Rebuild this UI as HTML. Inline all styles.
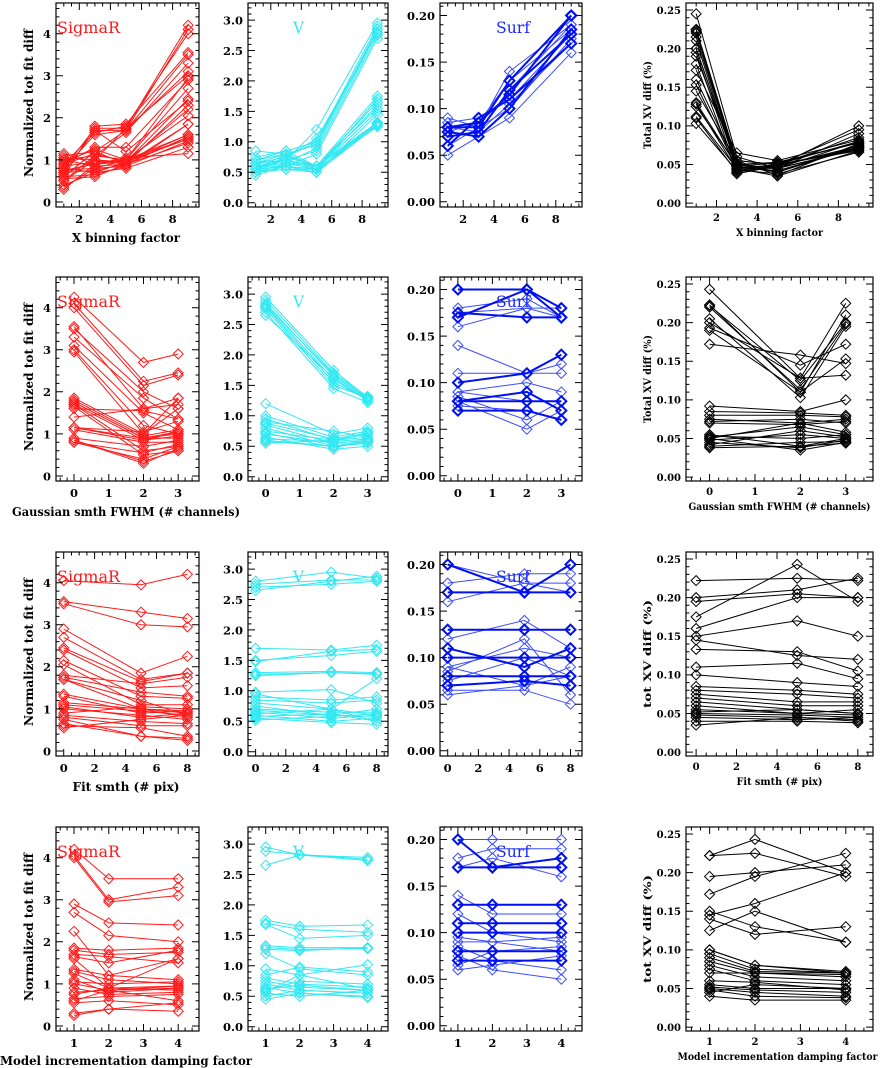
<!DOCTYPE html>
<html><head><meta charset="utf-8"><style>
html,body{margin:0;padding:0;background:#fff;}
svg{display:block;}
text{font-family:"DejaVu Serif","Liberation Serif",serif;}
</style></head>
<body>
<svg id="fig" width="880" height="1068" viewBox="0 0 880 1068" xmlns="http://www.w3.org/2000/svg"></svg>
<script>
// ---------- data ----------
const xRow1 = [1,3,5,9];
const xRow2 = [0,2,3];
const xRow3 = [0,5,8];
const xRow4 = [1,2,4];

const r1Sigma = [[0.8,1.75,1.75,4.2],[0.7,1.7,1.7,4.1],[0.9,1.65,1.8,4.0],[1.1,1.2,1.7,3.5],[0.6,1.8,1.85,3.55],[1.0,1.1,1.65,3.3],[0.8,1.6,1.7,3.1],[0.5,1.0,1.75,3.0],[0.3,0.9,1.0,2.95],[0.9,1.3,1.3,2.9],[0.75,0.8,1.0,2.7],[1.15,0.9,0.95,2.45],[0.7,1.7,1.2,2.4],[0.6,1.2,0.9,2.3],[0.8,0.7,0.95,2.2],[0.5,1.1,1.0,2.05],[1.05,1.0,0.9,1.85],[0.35,0.8,0.85,1.85],[0.85,0.95,1.0,1.6],[0.7,0.75,0.9,1.55],[0.9,1.15,0.95,1.5],[0.6,0.65,0.85,1.45],[1.0,0.85,0.9,1.4],[0.4,0.7,0.8,1.3],[0.75,0.9,1.05,1.15],[0.65,1.0,0.95,1.6],[0.95,1.25,1.0,1.5],[0.55,0.6,0.9,1.55]];
const r1V = [[0.6,0.7,1.2,2.95],[0.55,0.75,1.0,2.9],[0.65,0.8,0.95,2.85],[0.5,0.65,0.9,2.8],[0.7,0.85,1.0,2.8],[0.6,0.7,0.85,2.75],[0.55,0.6,0.8,2.7],[0.85,0.8,0.95,2.85],[0.5,0.75,1.05,2.78],[0.6,0.7,0.6,1.75],[0.55,0.6,0.55,1.7],[0.65,0.75,0.6,1.65],[0.5,0.55,0.55,1.6],[0.7,0.8,0.6,1.55],[0.6,0.65,0.55,1.5],[0.45,0.6,0.5,1.45],[0.55,0.7,0.55,1.3],[0.6,0.65,0.6,1.28],[0.5,0.6,0.55,1.25],[0.65,0.7,0.6,1.3],[0.75,0.85,0.6,1.32],[0.5,0.55,0.5,1.27],[0.55,0.8,0.55,1.7],[0.6,0.6,0.5,1.3]];
const r1SurfThin = [[0.09,0.08,0.14,0.19],[0.05,0.07,0.09,0.16],[0.085,0.09,0.11,0.18],[0.07,0.075,0.12,0.19],[0.06,0.08,0.10,0.175],[0.075,0.085,0.13,0.185],[0.08,0.075,0.105,0.17]];
const r1SurfThick = [[0.08,0.08,0.13,0.20],[0.07,0.075,0.12,0.18],[0.06,0.09,0.11,0.17],[0.075,0.07,0.10,0.185],[0.08,0.085,0.115,0.20]];
const r1XV = [[0.245,0.06,0.045,0.08],[0.225,0.055,0.05,0.085],[0.224,0.05,0.04,0.075],[0.222,0.045,0.05,0.07],[0.215,0.05,0.045,0.09],[0.21,0.045,0.048,0.072],[0.2,0.048,0.052,0.078],[0.195,0.04,0.05,0.068],[0.19,0.052,0.04,0.075],[0.172,0.065,0.055,0.082],[0.16,0.05,0.045,0.07],[0.153,0.045,0.035,0.068],[0.145,0.055,0.05,0.08],[0.13,0.048,0.04,0.073],[0.128,0.043,0.038,0.066],[0.125,0.05,0.053,0.078],[0.112,0.045,0.045,0.07],[0.11,0.04,0.048,0.1],[0.103,0.042,0.05,0.095],[0.2,0.047,0.042,0.072],[0.22,0.055,0.036,0.077],[0.18,0.038,0.048,0.074]];

const r2Sigma = [[4.25,2.7,2.9],[4.1,2.25,2.45],[4.0,2.15,2.4],[3.55,1.6,1.85],[3.5,2.0,1.6],[3.3,1.85,1.35],[3.1,1.5,1.1],[3.0,1.2,1.0],[2.95,1.0,1.6],[1.85,1.0,1.85],[1.8,0.95,1.1],[1.75,0.9,1.0],[1.7,0.85,0.95],[1.7,0.6,0.7],[1.65,0.5,0.6],[1.6,1.55,1.35],[1.4,1.6,1.7],[1.15,0.85,1.05],[1.15,0.9,0.9],[1.1,0.8,0.8],[0.85,0.35,0.6],[0.85,0.3,0.65],[0.8,0.4,0.7],[0.8,0.55,0.75],[0.9,0.7,0.85],[1.15,1.05,1.3],[1.75,0.9,1.05]];
const r2V = [[2.95,1.75,1.3],[2.9,1.7,1.32],[2.85,1.65,1.28],[2.8,1.6,1.25],[2.78,1.55,1.27],[2.75,1.5,1.3],[2.7,1.45,1.22],[2.65,1.62,1.26],[2.82,1.68,1.29],[1.2,0.7,0.8],[1.0,0.65,0.75],[0.95,0.6,0.7],[0.9,0.75,0.65],[0.85,0.55,0.6],[0.8,0.5,0.55],[0.75,0.6,0.7],[0.7,0.55,0.6],[0.65,0.45,0.5],[0.6,0.5,0.55],[0.55,0.6,0.65],[0.58,0.5,0.6],[0.88,0.62,0.72],[0.72,0.48,0.58],[0.62,0.58,0.62]];
const r2SurfThin = [[0.18,0.19,0.17],[0.16,0.18,0.17],[0.175,0.18,0.18],[0.14,0.11,0.12],[0.11,0.11,0.11],[0.09,0.10,0.09],[0.085,0.06,0.08],[0.08,0.05,0.07],[0.075,0.07,0.06],[0.09,0.08,0.08]];
const r2SurfThick = [[0.20,0.20,0.17],[0.175,0.17,0.17],[0.17,0.20,0.18],[0.10,0.11,0.13],[0.08,0.08,0.08],[0.07,0.07,0.06],[0.08,0.09,0.07]];
const r2XV = [[0.243,0.128,0.225],[0.223,0.11,0.21],[0.222,0.125,0.2],[0.22,0.113,0.198],[0.205,0.103,0.195],[0.193,0.145,0.172],[0.19,0.11,0.153],[0.172,0.158,0.147],[0.2,0.128,0.132],[0.092,0.085,0.1],[0.085,0.083,0.08],[0.08,0.08,0.078],[0.075,0.07,0.075],[0.07,0.068,0.072],[0.072,0.075,0.07],[0.055,0.04,0.05],[0.052,0.065,0.055],[0.05,0.035,0.045],[0.048,0.055,0.05],[0.045,0.038,0.048],[0.042,0.06,0.052],[0.04,0.045,0.046],[0.053,0.05,0.055],[0.038,0.04,0.044],[0.05,0.07,0.058]];

const r3Sigma = [[4.05,3.95,4.2],[3.55,3.3,3.15],[3.5,3.0,2.95],[2.9,1.85,2.25],[2.7,1.7,1.85],[2.45,1.65,1.85],[2.4,1.5,1.55],[2.15,1.3,1.25],[2.05,1.1,1.1],[1.8,1.6,1.75],[1.75,1.4,1.3],[1.7,1.0,0.9],[1.7,1.2,0.85],[1.35,1.0,0.8],[1.3,0.9,0.95],[1.1,0.95,0.85],[1.05,0.8,0.9],[1.0,0.85,0.75],[0.85,0.7,0.65],[0.8,0.6,0.6],[0.75,0.35,0.3],[0.65,0.35,0.25],[0.6,0.55,0.35],[0.55,0.75,0.85],[0.9,1.05,1.0],[1.15,1.0,0.95]];
const r3V = [[2.8,2.95,2.85],[2.75,2.82,2.82],[2.7,2.75,2.8],[2.65,2.8,2.88],[1.7,1.67,1.75],[1.5,1.58,1.65],[1.48,1.65,1.68],[1.3,1.32,1.3],[1.27,1.3,1.28],[1.25,1.3,1.27],[0.98,1.02,0.8],[0.95,0.7,1.2],[0.9,0.85,0.9],[0.85,0.8,0.85],[0.8,0.7,0.6],[0.75,0.6,0.7],[0.7,0.65,0.65],[0.65,0.55,0.6],[0.6,0.5,0.55],[0.58,0.62,0.5],[0.55,0.48,0.45],[0.52,0.58,0.62],[0.62,0.7,0.5],[0.68,0.6,0.58]];
const r3SurfThin = [[0.20,0.18,0.18],[0.18,0.19,0.19],[0.16,0.18,0.17],[0.12,0.14,0.11],[0.09,0.07,0.09],[0.085,0.12,0.06],[0.065,0.065,0.05],[0.06,0.07,0.08],[0.075,0.1,0.08],[0.09,0.11,0.10]];
const r3SurfThick = [[0.20,0.17,0.20],[0.17,0.17,0.17],[0.13,0.13,0.13],[0.10,0.10,0.10],[0.08,0.08,0.08],[0.07,0.075,0.07],[0.11,0.09,0.11]];
const r3XV = [[0.222,0.225,0.222],[0.2,0.21,0.225],[0.195,0.205,0.2],[0.175,0.243,0.195],[0.16,0.2,0.2],[0.15,0.17,0.15],[0.145,0.125,0.12],[0.133,0.13,0.105],[0.11,0.115,0.095],[0.1,0.09,0.085],[0.085,0.08,0.075],[0.08,0.075,0.07],[0.075,0.065,0.065],[0.07,0.06,0.06],[0.065,0.055,0.05],[0.055,0.05,0.048],[0.05,0.048,0.045],[0.048,0.045,0.04],[0.045,0.042,0.045],[0.04,0.04,0.038],[0.035,0.045,0.042],[0.052,0.055,0.05],[0.06,0.05,0.055]];

const r4Sigma = [[4.2,3.5,3.5],[4.05,3.0,3.3],[4.0,2.95,3.1],[2.9,2.45,2.4],[2.7,2.15,2.0],[2.25,1.2,1.6],[1.85,1.8,1.85],[1.8,1.7,1.75],[1.7,1.65,1.5],[1.65,1.5,1.8],[1.6,0.9,1.6],[1.35,1.2,1.1],[1.3,1.1,1.0],[1.25,0.9,0.95],[1.1,0.8,0.9],[1.05,1.0,1.05],[0.9,0.75,0.8],[0.8,0.85,0.9],[0.75,0.9,0.85],[0.65,0.7,0.75],[0.6,0.85,0.6],[0.55,0.6,0.5],[0.3,0.4,0.35],[0.25,0.4,0.55],[1.0,0.85,0.95]];
const r4V = [[2.95,2.82,2.78],[2.88,2.83,2.75],[2.65,2.82,2.73],[1.75,1.65,1.67],[1.7,1.6,1.55],[1.68,1.45,1.5],[1.33,1.3,1.3],[1.3,1.27,1.28],[1.27,1.25,1.3],[1.2,0.95,0.85],[0.95,0.85,1.02],[0.85,0.98,0.9],[0.8,0.7,0.65],[0.75,0.65,0.6],[0.7,0.6,0.55],[0.65,0.55,0.5],[0.6,0.75,0.7],[0.55,0.5,0.6],[0.5,0.6,0.55],[0.45,0.55,0.48],[0.62,0.68,0.6],[0.58,0.85,0.62]];
const r4SurfThin = [[0.20,0.20,0.20],[0.18,0.19,0.19],[0.14,0.12,0.12],[0.12,0.10,0.09],[0.09,0.09,0.08],[0.085,0.07,0.06],[0.075,0.06,0.05],[0.06,0.065,0.075],[0.065,0.08,0.085],[0.095,0.09,0.095],[0.17,0.18,0.16]];
const r4SurfThick = [[0.20,0.17,0.18],[0.17,0.17,0.17],[0.13,0.13,0.13],[0.11,0.11,0.11],[0.10,0.10,0.10],[0.08,0.08,0.08],[0.07,0.07,0.07]];
const r4XV = [[0.222,0.243,0.2],[0.222,0.225,0.195],[0.195,0.2,0.21],[0.172,0.195,0.225],[0.15,0.13,0.11],[0.145,0.16,0.2],[0.14,0.12,0.13],[0.125,0.15,0.11],[0.1,0.08,0.072],[0.095,0.075,0.07],[0.09,0.072,0.07],[0.085,0.07,0.068],[0.08,0.065,0.06],[0.075,0.06,0.055],[0.055,0.05,0.05],[0.052,0.048,0.045],[0.05,0.045,0.04],[0.048,0.04,0.038],[0.045,0.055,0.05],[0.04,0.035,0.035],[0.06,0.058,0.048],[0.07,0.07,0.065],[0.1,0.08,0.07]];

const yTicksSigma = ["0","1","2","3","4"];
const yTicksV = ["0.0","0.5","1.0","1.5","2.0","2.5","3.0"];
const yTicksSurf = ["0.00","0.05","0.10","0.15","0.20"];
const yTicksXV = ["0.00","0.05","0.10","0.15","0.20","0.25"];
const xTicksRow1 = ["2","4","6","8"];
const xTicksRow2 = ["0","1","2","3"];
const xTicksRow3 = ["0","2","4","6","8"];
const xTicksRow4 = ["1","2","3","4"];

// ---------- drawing ----------
const svg = document.getElementById('fig');
const NS = 'http://www.w3.org/2000/svg';
function mk(tag, attrs, parent){const e=document.createElementNS(NS,tag);for(const k in attrs)e.setAttribute(k,attrs[k]);(parent||svg).appendChild(e);return e;}

const rowTops=[3,277,552,827], H=204;
const cols=[{x0:56,x1:199},{x0:248,x1:388},{x0:440,x1:582},{x0:686,x1:873}];
const colY=[
 {lo:-0.12,hi:4.73,maj:1,min:0.2,labels:yTicksSigma},
 {lo:-0.07,hi:3.28,maj:0.5,min:0.1,labels:yTicksV},
 {lo:-0.0056,hi:0.2134,maj:0.05,min:0.01,labels:yTicksSurf},
 {lo:-0.005,hi:0.259,maj:0.05,min:0.01,labels:yTicksXV}];
const rowX=[
 {lo:0.5,hi:9.7,maj:2,min:0.5,first:2,labels:xTicksRow1,xs:xRow1},
 {lo:-0.52,hi:3.6,maj:1,min:0.2,first:0,labels:xTicksRow2,xs:xRow2},
 {lo:-0.5,hi:8.75,maj:2,min:0.5,first:0,labels:xTicksRow3,xs:xRow3},
 {lo:0.48,hi:4.6,maj:1,min:0.2,first:1,labels:xTicksRow4,xs:xRow4}];
const panelData=[
 [r1Sigma,r1V,[r1SurfThin,r1SurfThick],r1XV],
 [r2Sigma,r2V,[r2SurfThin,r2SurfThick],r2XV],
 [r3Sigma,r3V,[r3SurfThin,r3SurfThick],r3XV],
 [r4Sigma,r4V,[r4SurfThin,r4SurfThick],r4XV]];
const colColors=['#ff1a1a','#33e8f2','#1a2aff','#000000'];
const colNames=['sigmar','v','surf','xv'];
const titles=['SigmaR','V','Surf',null];
const titleLens=[63,11,34];
const xTitles=['X binning factor','Gaussian smth FWHM (# channels)','Fit smth (# pix)','Model incrementation damping factor'];
const xTitleLen1=[108,228,107,252];
const xTitleLen4=[87,182,86,200];
const xv4Titles=['Total XV diff (%)','Total XV diff (%)','tot XV diff (%)','tot XV diff (%)'];
const xv4Lens=[88,88,108,108];

function seriesPath(g, xs, vals, sx, sy, color, width){
  const d = vals.map((v,i)=>(i?'L':'M')+sx(xs[i]).toFixed(1)+','+sy(v).toFixed(1)).join('');
  const p = mk('path',{d:d,fill:'none',stroke:color,'stroke-width':width},g);
  
  
  vals.forEach((v,i)=>{
    const cx=sx(xs[i]), cy=sy(v), r=5;
    const m=mk('path',{d:`M${cx-r},${cy}L${cx},${cy-r}L${cx+r},${cy}L${cx},${cy+r}Z`,fill:'none',stroke:color,'stroke-width':width},g);
    
    
  });
}

for(let r=0;r<4;r++){
  const top=rowTops[r], bot=top+H, X=rowX[r];
  for(let c=0;c<4;c++){
    const C=cols[c], Y=colY[c];
    const g=mk('g',{});
    
    
    const sx=v=>C.x0+(v-X.lo)/(X.hi-X.lo)*(C.x1-C.x0);
    const sy=v=>bot-(v-Y.lo)/(Y.hi-Y.lo)*H;
    const small = c===3;
    const color=colColors[c];
    const dat=panelData[r][c];
    if(c===2){
      dat[0].forEach(s=>seriesPath(g,X.xs,s,sx,sy,'#3b4cff',1));
      dat[1].forEach(s=>seriesPath(g,X.xs,s,sx,sy,'#0010ee',2));
    } else {
      dat.forEach(s=>seriesPath(g,X.xs,s,sx,sy,color,1));
    }
    const fr=mk('rect',{x:C.x0,y:top,width:C.x1-C.x0,height:H,fill:'none',stroke:'#000','stroke-width':1.2},g);
    
    
    let td='';
    const eps=1e-9;
    for(let v=Math.ceil(Y.lo/Y.min)*Y.min; v<=Y.hi+eps; v+=Y.min){
      const isMaj=Math.abs(v/Y.maj-Math.round(v/Y.maj))<1e-6; const L=isMaj?7:3.5; const y=sy(v).toFixed(1);
      td+=`M${C.x0},${y}h${L}M${C.x1},${y}h${-L}`;
    }
    for(let v=Math.ceil(X.lo/X.min)*X.min; v<=X.hi+eps; v+=X.min){
      const isMaj=Math.abs(v/X.maj-Math.round(v/X.maj))<1e-6; const L=isMaj?7:3.5; const x=sx(v).toFixed(1);
      td+=`M${x},${bot}v${-L}M${x},${top}v${L}`;
    }
    const tk=mk('path',{d:td,stroke:'#000','stroke-width':1,fill:'none'},g);
    
    
    const fs=small?10:11.5;
    Y.labels.forEach((lab,i)=>{
      const t=mk('text',{x:C.x0-5,y:sy(i*Y.maj)+fs*0.38,'text-anchor':'end','font-size':fs,'font-weight':'bold'},g);
      t.textContent=lab;
      
      
    });
    X.labels.forEach((lab,i)=>{
      const t=mk('text',{x:sx(X.first+i*X.maj),y:bot+(small?14:16),'text-anchor':'middle','font-size':fs,'font-weight':'bold'},g);
      t.textContent=lab;
      
      
    });
    if(titles[c]){
      const tx=[57,293,496][c];
      const t=mk('text',{x:tx,y:top+30,'font-size':16,fill:color,textLength:titleLens[c],lengthAdjust:'spacingAndGlyphs'},g);
      t.textContent=titles[c];
      
      
    }
    if(c===0){
      const cy=top+H/2-2;
      const t=mk('text',{x:0,y:0,'font-size':12.5,'font-weight':'bold','text-anchor':'middle',textLength:148,lengthAdjust:'spacingAndGlyphs',transform:`translate(33,${cy}) rotate(-90)`},g);
      t.textContent='Normalized tot fit diff';
      
      
      const len=xTitleLen1[r];
      const startX = r===3?0:(r===1?12:126-len/2);
      const xt=mk('text',{x:startX,y:bot+(r===3?34:35),'font-size':12.5,'font-weight':'bold',textLength:len,lengthAdjust:'spacingAndGlyphs'},g);
      xt.textContent=xTitles[r];
      
      
    }
    if(c===3){
      const cy=top+H/2;
      const t=mk('text',{x:0,y:0,'font-size':10.5,'font-weight':'bold','text-anchor':'middle',textLength:xv4Lens[r],lengthAdjust:'spacingAndGlyphs',transform:`translate(651,${cy}) rotate(-90)`},g);
      t.textContent=xv4Titles[r];
      
      
      const len=xTitleLen4[r];
      const xt=mk('text',{x:(C.x0+C.x1)/2-len/2+(r===3?-2:0),y:bot+29,'font-size':10.5,'font-weight':'bold',textLength:len,lengthAdjust:'spacingAndGlyphs'},g);
      xt.textContent=xTitles[r];
      
      
    }
  }
}
</script>
</body></html>
